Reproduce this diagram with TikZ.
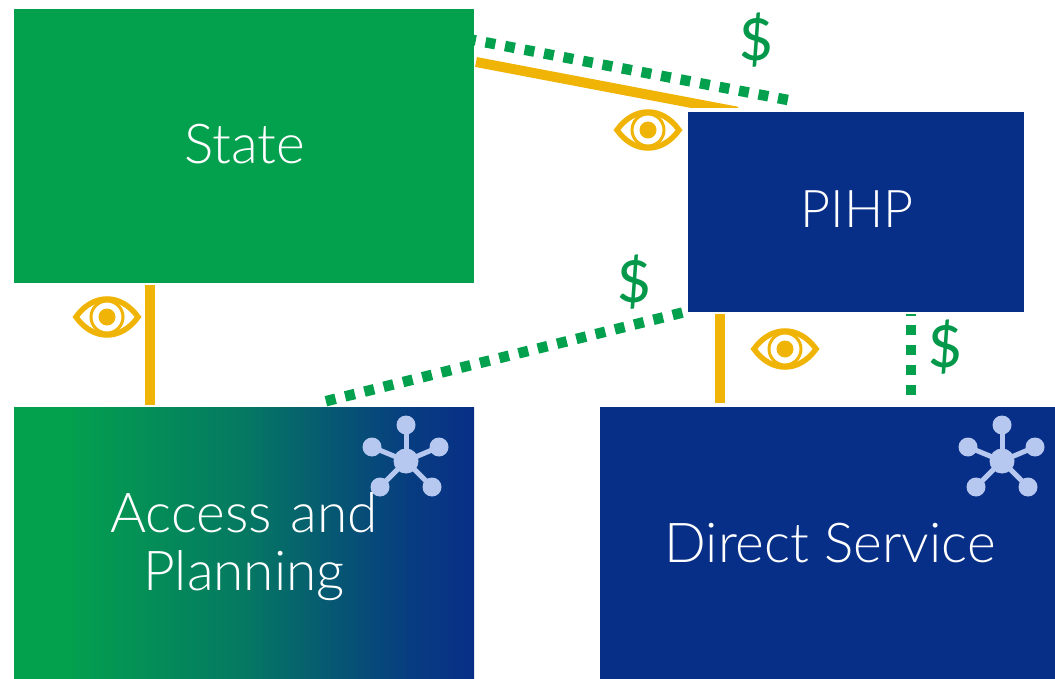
\documentclass[tikz,border=0pt]{standalone}
\usepackage{fontspec}
\setmainfont{Lato Light}
\newfontfamily\dollarfont{Lato Medium}
\usetikzlibrary{positioning}
\definecolor{stategreen}{HTML}{03A04E}
\definecolor{pihpblue}{HTML}{082F87}
\definecolor{eyegold}{HTML}{EFB405}
\definecolor{hublight}{HTML}{B7C8F0}
\pgfdeclarehorizontalshading{accessshade}{100bp}{
  color(0bp)=(stategreen); color(31bp)=(stategreen); color(50bp)=(stategreen!65!pihpblue); color(60bp)=(stategreen!35!pihpblue); color(68bp)=(stategreen!12!pihpblue); color(75bp)=(pihpblue); color(100bp)=(pihpblue)}
\tikzset{
  box/.style={inner sep=0pt, text=white, align=center, font=\fontsize{55}{58}\selectfont},
  oversight/.style={draw=eyegold, line width=10pt},
  funding/.style={draw=stategreen, line width=10.5pt, dash pattern=on 10pt off 9.85pt},
  dollar/.style={text=stategreen!95!black, inner sep=0pt, font=\dollarfont\fontsize{58}{58}\selectfont},
  pics/eye/.style={code={
    \draw[eyegold, line width=5.5pt] (-31,0) .. controls (-14,-24) and (14,-24) .. (31,0) .. controls (14,24) and (-14,24) .. (-31,0) -- cycle;
    \draw[eyegold, line width=3pt] (0,0) circle (16);
    \fill[eyegold] (0,0) circle (8.5);
  }},
  pics/hub/.style={code={
    \fill[hublight] (0,0) circle (12.5);
    \fill[hublight] (0,-36) circle (9.5);
    \fill[hublight] (-34,-14) circle (9.5);
    \fill[hublight] (33,-14) circle (9.5);
    \fill[hublight] (-26,26) circle (9.5);
    \fill[hublight] (26,26) circle (9.5);
    \draw[hublight, line width=5pt] (0,0) -- (0,-36);
    \draw[hublight, line width=5pt] (0,0) -- (-34,-14);
    \draw[hublight, line width=5pt] (0,0) -- (33,-14);
    \draw[hublight, line width=5pt] (0,0) -- (-26,26);
    \draw[hublight, line width=5pt] (0,0) -- (26,26);
  }}
}
\begin{document}
\begin{tikzpicture}[x=1pt, y=-1pt]
\useasboundingbox (0,0) rectangle (1055,679);
\node[box, fill=stategreen, minimum width=460pt, minimum height=274pt] (state) at (244,146) {};
\node[box] (statetext) at (245,144) {State};
\node[box, fill=pihpblue, minimum width=336pt, minimum height=200pt] (pihp) at (856,212) {};
\node[box, font=\fontsize{52}{58}\selectfont] (pihptext) at (857,209) {PIHP};
\node[box, shading=accessshade, minimum width=460pt, minimum height=272pt] (access) at (244,543) {};
\node[box, fill=pihpblue, minimum width=455pt, minimum height=272pt] (direct) at (827.5,543) {};
\pic at (406,461) {hub};
\pic at (1002,461) {hub};
\node[box, text width=460pt] (accesstext) at (244,547) {Access and\\Planning};
\node[box] (directtext) at (830,543) {Direct Service};
% end points of the links
\coordinate (s1) at (476,62);
\coordinate (p1) at (760,116);
\coordinate (s2) at (466,38.6);
\coordinate (p2) at (790,100.4);
\coordinate (a1) at (325.9,401.2);
\coordinate (p3) at (684,312.2);
\coordinate (p4) at (911,395);
\coordinate (p5) at (911,314);
\coordinate (v1) at (150,285);
\coordinate (v2) at (150,405);
\coordinate (v3) at (720,314);
\coordinate (v4) at (720,403);
\draw[oversight] (v1) -- (v2);
\draw[oversight] (v3) -- (v4);
\begin{scope}
\clip (470,40) rectangle (738,108);
\draw[oversight] (s1) -- (p1);
\end{scope}
\draw[funding] (s2) -- (p2);
\draw[funding] (a1) -- (p3);
\draw[funding] (p4) -- (p5);
\pic at (648,130) {eye};
\pic at (107,317) {eye};
\pic at (785,349) {eye};
\node[dollar] (d1) at (756,40) {\$};
\node[dollar] (d2) at (634,282) {\$};
\node[dollar] (d3) at (945,347) {\$};
\end{tikzpicture}
\end{document}
